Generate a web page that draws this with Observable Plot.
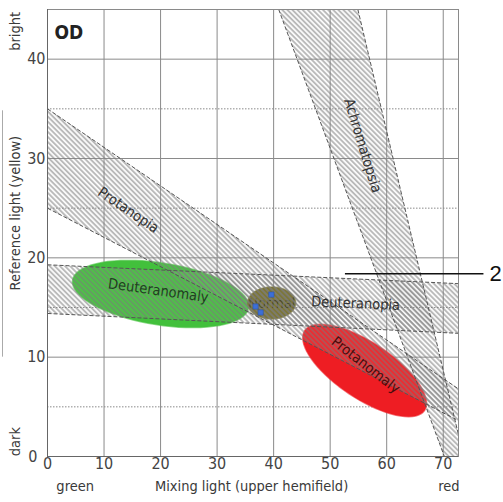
<!DOCTYPE html>
<html><head><meta charset="utf-8">
<script src="https://cdn.jsdelivr.net/npm/d3@7"></script>
<script src="https://cdn.jsdelivr.net/npm/@observablehq/plot@0.6"></script>
<style>body{margin:0;background:#fff} svg{display:block}</style>
</head><body><div id="chart"></div>
<script>
// ---- axes / grid ----
const xTicks = [0, 10, 20, 30, 40, 50, 60, 70];
const yTicks = [0, 10, 20, 30, 40];
const gridSolidY = [10, 20, 30, 40];
const gridDottedY = [5, 15, 25, 35];
const xDomain = [0, 72.7];
const yDomain = [0, 45];

// ---- bands (polygon corners) ----
const protanopiaX = [0, 72.7, 72.7, 0];
const protanopiaY = [35, 6.8, 3.6, 25];
const deuteranopiaX = [0, 72.7, 72.7, 0];
const deuteranopiaY = [19.3, 17.4, 12.4, 14.4];
const achromatopsiaX = [40.9, 54.9, 73.6, 70.2];
const achromatopsiaY = [45, 45, 0, 0];

// ---- ellipses: centre and conjugate semi-axes (data units) ----
const ellipseNames = ["Deuteranomaly", "Normal", "Protanomaly"];
const ellipseCX = [20.0, 39.65, 56.1];
const ellipseCY = [16.36, 15.46, 8.66];
const ellipseUX = [15.56, 4.25, 10.6];
const ellipseUY = [-1.40, 0, -4.02];
const ellipseVX = [-0.86, 0, -2.75];
const ellipseVY = [-3.08, -1.61, -2.35];
const ellipseColors = ["#42c03c", "#6b6519", "#ee1d23"];

// ---- normal match points ----
const normalPointsX = [39.6, 36.8, 37.7];
const normalPointsY = [16.3, 15.1, 14.5];

// ---- labels ----
const labelText = ["Protanopia", "Achromatopsia", "Deuteranopia", "Deuteranomaly", "Protanomaly"];
const labelX = [14.3, 55.75, 54.5, 19.6, 56.3];
const labelY = [24.8, 31.3, 15.4, 16.7, 9.2];
const labelAngle = [34, 73, 2.5, 8, 38];
const labelColor = ["#333", "#333", "#333", "#1d421d", "#4a0c0c"];

const annotationY = 18.4;
const annotationX = [52.7, 77.2];
const annotationText = "2";
const annotationTextX = 78.2;
const bracketY = [10, 34.8];

const FONT = "'DejaVu Sans Condensed', 'DejaVu Sans', sans-serif";

const poly = (xs, ys) => xs.map((x, i) => ({x, y: ys[i]}));
const bands = [poly(protanopiaX, protanopiaY), poly(deuteranopiaX, deuteranopiaY), poly(achromatopsiaX, achromatopsiaY)];
const edges = [];
[[0,1],[3,2]].forEach(([a,b]) => { for (const k of [0,1]) { const p = bands[k]; edges.push({x1:p[a].x,y1:p[a].y,x2:p[b].x,y2:p[b].y}); } });
[[0,3],[1,2]].forEach(([a,b]) => { const p = bands[2]; edges.push({x1:p[a].x,y1:p[a].y,x2:p[b].x,y2:p[b].y}); });

const ellipses = ellipseNames.map((name, i) => d3.range(73).map(k => {
  const t = k / 72 * 2 * Math.PI;
  return {x: ellipseCX[i] + ellipseUX[i] * Math.cos(t) + ellipseVX[i] * Math.sin(t),
          y: ellipseCY[i] + ellipseUY[i] * Math.cos(t) + ellipseVY[i] * Math.sin(t)};
}));

const labels = labelText.map((t, i) => ({t, x: labelX[i], y: labelY[i], a: labelAngle[i], c: labelColor[i]}));
const points = normalPointsX.map((x, i) => ({x, y: normalPointsY[i]}));

const marks = [
  Plot.ruleX(xTicks, {stroke: "#8a8a8a", strokeWidth: 1}),
  Plot.ruleY(gridSolidY, {stroke: "#8a8a8a", strokeWidth: 1}),
  Plot.ruleY(gridDottedY, {stroke: "#8a8a8a", strokeWidth: 1, strokeDasharray: "1.5,1.5"}),
];
ellipses.forEach((e, i) => marks.push(Plot.line(e, {x: "x", y: "y", curve: "linear-closed", fill: ellipseColors[i], stroke: ellipseColors[i], strokeWidth: 1.5, strokeOpacity: 0.6})));
marks.push(Plot.text([ellipseNames[1]], {x: [ellipseCX[1]], y: [ellipseCY[1]], text: d => d, fontSize: 14.5, fill: "#25250c", fillOpacity: 0.85}));
bands.forEach(b => {
  marks.push(Plot.line(b, {x: "x", y: "y", curve: "linear-closed", fill: "#c8c8c8", fillOpacity: 0.1, stroke: "none", clip: true}));
  marks.push(Plot.line(b, {x: "x", y: "y", curve: "linear-closed", fill: "url(#hatch)", stroke: "none", clip: true}));
});
marks.push(Plot.link(edges, {x1: "x1", y1: "y1", x2: "x2", y2: "y2", stroke: "#555", strokeWidth: 1, strokeDasharray: "4,2", clip: true}));
marks.push(Plot.dot(points, {x: "x", y: "y", symbol: "square", r: 3, fill: "#3c6fd6", stroke: "#2a4f9a", strokeWidth: 0.5}));
marks.push(Plot.text(labels, {x: "x", y: "y", text: "t", rotate: "a", fill: "c", fontSize: 14.5}));
marks.push(Plot.frame({stroke: "#8a8a8a"}));
marks.push(Plot.ruleX([0], {stroke: "#666"}), Plot.ruleY([0], {stroke: "#666"}));
// tick labels
marks.push(Plot.text(xTicks, {x: d => d, frameAnchor: "bottom", dy: 12, text: d => String(d), fontSize: 16, fill: "#444"}));
marks.push(Plot.text(yTicks.filter(d => d !== 0), {y: d => d, frameAnchor: "left", textAnchor: "end", dx: -2, text: d => String(d), fontSize: 16, fill: "#444"}));
marks.push(Plot.text(yTicks.filter(d => d === 0), {y: d => d, frameAnchor: "left", textAnchor: "end", dx: -10, text: d => String(d), fontSize: 16, fill: "#444"}));
// axis titles
marks.push(Plot.text(["Mixing light (upper hemifield)"], {frameAnchor: "bottom", dy: 34, x: [36.1], textAnchor: "middle", text: d => d, fontSize: 14.5, fill: "#3a3a3a"}));
marks.push(Plot.text(["green"], {frameAnchor: "bottom", dy: 34, x: [4.9], textAnchor: "middle", text: d => d, fontSize: 14.5, fill: "#3a3a3a"}));
marks.push(Plot.text(["red"], {frameAnchor: "bottom", dy: 34, x: [71.0], textAnchor: "middle", text: d => d, fontSize: 14.5, fill: "#3a3a3a"}));
marks.push(Plot.text(["bright"], {frameAnchor: "left", dx: -32, y: [42.8], rotate: -90, textAnchor: "middle", text: d => d, fontSize: 14.5, fill: "#3a3a3a"}));
marks.push(Plot.text(["Reference light (yellow)"], {frameAnchor: "left", dx: -32, y: [24.5], rotate: -90, textAnchor: "middle", text: d => d, fontSize: 14.5, fill: "#3a3a3a"}));
marks.push(Plot.text(["dark"], {frameAnchor: "left", dx: -32, y: [1.5], rotate: -90, textAnchor: "middle", text: d => d, fontSize: 14.5, fill: "#3a3a3a"}));
marks.push(Plot.ruleX([0], {y1: bracketY[0], y2: bracketY[1], dx: -45, stroke: "#aaa"}));
marks.push(Plot.text(["OD"], {frameAnchor: "top-left", dx: 7, dy: 16, textAnchor: "start", text: d => d, fontSize: 19, fontWeight: "bold", fill: "#222"}));
// annotation
marks.push(Plot.ruleY([annotationY], {x1: annotationX[0], x2: annotationX[1], stroke: "#111", strokeWidth: 1.6}));
marks.push(Plot.text([annotationText], {x: [annotationTextX], y: [annotationY], textAnchor: "start", text: d => d, fontSize: 22, fill: "#111", fontFamily: "'Liberation Sans', sans-serif"}));

const svg = Plot.plot({
  width: 503, height: 502,
  marginLeft: 47, marginRight: 45, marginTop: 9, marginBottom: 46,
  x: {domain: xDomain, axis: null},
  y: {domain: yDomain, axis: null},
  style: {fontFamily: FONT, fontSize: "14px", color: "#333", background: "white", overflow: "visible"},
  marks
});
const ns = "http://www.w3.org/2000/svg";
const defs = document.createElementNS(ns, "defs");
defs.innerHTML = '<pattern id="hatch" patternUnits="userSpaceOnUse" width="3.6" height="3.6" patternTransform="rotate(45)"><line x1="0" y1="1.8" x2="3.6" y2="1.8" stroke="#7a7a7a" stroke-width="0.9"/></pattern>';
svg.insertBefore(defs, svg.firstChild);
document.getElementById("chart").appendChild(svg);
</script></body></html>
